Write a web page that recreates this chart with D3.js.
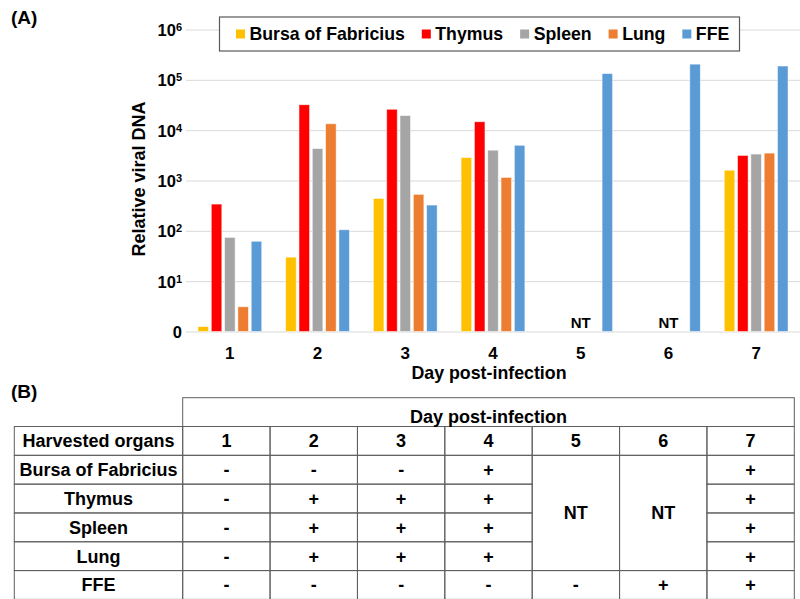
<!DOCTYPE html>
<html>
<script type="text/javascript" src="https://cdn.jsdelivr.net/npm/d3@7"></script>
<style>
  body { margin: 0; background: white; }
  * { font-family: Arial, "Liberation Sans", sans-serif; }
  text { font-weight: bold; fill: black; }
</style>
<body>
<svg width="800" height="599"></svg>
<script>
var days = ["1", "2", "3", "4", "5", "6", "7"];
var organs = ["Bursa of Fabricius", "Thymus", "Spleen", "Lung", "FFE"];
var colors = ["#FFC000", "#FF0000", "#A5A5A5", "#ED7D31", "#5B9BD5"];

// relative viral DNA per day, null = not tested
var bursa  = [1.25, 30, 440, 2850, null, null, 1600];
var thymus = [340, 32000, 26000, 14700, null, null, 3150];
var spleen = [74, 4300, 19500, 4000, null, null, 3350];
var lung   = [3.1, 13400, 530, 1150, null, null, 3500];
var ffe    = [62, 105, 325, 5000, 133000, 205000, 188000];
var series = [bursa, thymus, spleen, lung, ffe];

var yTicks = [1, 10, 100, 1000, 10000, 100000, 1000000];
var ntDays = ["5", "6"];

// table (B)
var tableHead = "Harvested organs";
var bursaRes  = ["-", "-", "-", "+", "NT", "NT", "+"];
var thymusRes = ["-", "+", "+", "+", "NT", "NT", "+"];
var spleenRes = ["-", "+", "+", "+", "NT", "NT", "+"];
var lungRes   = ["-", "+", "+", "+", "NT", "NT", "+"];
var ffeRes    = ["-", "-", "-", "-", "-", "+", "+"];
var results = [bursaRes, thymusRes, spleenRes, lungRes, ffeRes];

var svg = d3.select("svg");

var x0 = d3.scaleBand().domain(days).range([186, 800]);
var x1 = d3.scaleBand().domain(organs).range([0, x0.bandwidth()])
  .paddingInner(0.21).paddingOuter(0.9);
var y = d3.scaleLog().domain([1, 1e6]).range([331.5, 29.5]);

// gridlines
svg.append("g")
  .attr("transform", "translate(186,0)")
  .call(d3.axisLeft(y).tickValues(yTicks).tickSize(-614).tickFormat(""))
  .call(function(g) {
    g.select(".domain").remove();
    g.selectAll("line").attr("stroke", "#d9d9d9");
  });

// y tick labels with superscripts
var yl = svg.append("g")
  .attr("transform", "translate(182,0)")
  .call(d3.axisLeft(y).tickValues(yTicks).tickSize(0).tickPadding(0).tickFormat(""));
yl.select(".domain").remove();
yl.selectAll(".tick line").remove();
yl.selectAll(".tick").append("text")
  .attr("text-anchor", "end")
  .attr("y", 6)
  .style("font-size", "16.5px")
  .each(function(d) {
    var t = d3.select(this);
    if (d === 1) { t.text("0"); return; }
    t.append("tspan").text("10");
    t.append("tspan").attr("dy", -5).style("font-size", "11px").text(Math.round(Math.log10(d)));
  });

// bars
var groups = svg.append("g")
  .selectAll("g")
  .data(days)
  .enter()
  .append("g")
  .attr("transform", function(d) { return "translate(" + x0(d) + ",0)"; });

groups.selectAll("rect")
  .data(function(d, i) {
    return organs.map(function(o, j) { return {organ: o, color: colors[j], value: series[j][i]}; })
      .filter(function(e) { return e.value != null; });
  })
  .enter()
  .append("rect")
  .attr("x", function(d) { return x1(d.organ); })
  .attr("width", x1.bandwidth())
  .attr("y", function(d) { return y(d.value); })
  .attr("height", function(d) { return y(1) - y(d.value); })
  .attr("fill", function(d) { return d.color; })
  .attr("stroke", "white")
  .attr("stroke-opacity", 0.6)
  .attr("stroke-width", 0.8);

// NT labels
svg.append("g")
  .selectAll("text")
  .data(ntDays)
  .enter()
  .append("text")
  .attr("x", function(d) { return x0(d) + x0.bandwidth() / 2; })
  .attr("y", 327.5)
  .attr("text-anchor", "middle")
  .style("font-size", "15px")
  .text("NT");

// x axis labels
var xa = svg.append("g")
  .attr("transform", "translate(0,331.5)")
  .call(d3.axisBottom(x0).tickSize(0).tickPadding(0));
xa.select(".domain").remove();
xa.selectAll(".tick text")
  .attr("y", 27.5)
  .attr("dy", 0)
  .style("font-size", "17px")
  .attr("fill", "black");

svg.append("text")
  .attr("x", 489)
  .attr("y", 379)
  .attr("text-anchor", "middle")
  .style("font-size", "17.8px")
  .text("Day post-infection");

svg.append("text")
  .attr("transform", "translate(145,179)rotate(-90)")
  .attr("text-anchor", "middle")
  .style("font-size", "18px")
  .text("Relative viral DNA");

svg.append("text").attr("x", 11).attr("y", 24).style("font-size", "19px").text("(A)");
svg.append("text").attr("x", 11).attr("y", 398).style("font-size", "19px").text("(B)");

// legend
var legend = svg.append("g");
legend.append("rect")
  .attr("x", 219.5).attr("y", 17)
  .attr("width", 520).attr("height", 34)
  .attr("fill", "white")
  .attr("stroke", "#595959")
  .attr("stroke-width", 1.2);
var lx = 236;
organs.forEach(function(o, i) {
  legend.append("rect")
    .attr("x", lx).attr("y", 29.5)
    .attr("width", 9).attr("height", 9)
    .attr("fill", colors[i]);
  var t = legend.append("text")
    .attr("x", lx + 13.5).attr("y", 39.5)
    .style("font-size", "17.7px")
    .text(o);
  lx = lx + 13.5 + t.node().getComputedTextLength() + 17;
});

// table
var cols = d3.scaleBand().domain(days).range([182.7, 794.3]);
var rows = d3.scaleBand().domain(["day", "head"].concat(organs)).range([397.7, 599.4]);
var tb = svg.append("g").attr("fill", "none").attr("stroke", "#5f5f5f").attr("stroke-width", 1);

tb.append("rect")
  .attr("x", cols.range()[0]).attr("y", rows("day"))
  .attr("width", cols.range()[1] - cols.range()[0]).attr("height", rows.bandwidth());

var rowNames = ["head"].concat(organs);
rowNames.forEach(function(r) {
  tb.append("rect")
    .attr("x", 14.3).attr("y", rows(r))
    .attr("width", cols.range()[0] - 14.3).attr("height", rows.bandwidth());
});

var cells = [];
days.forEach(function(d, j) {
  cells.push({row: "head", day: d, value: d, span: 1});
  organs.forEach(function(o, i) {
    var v = results[i][j];
    if (v === "NT") {
      if (i === 0) cells.push({row: o, day: d, value: v, span: 4});
    } else {
      cells.push({row: o, day: d, value: v, span: 1});
    }
  });
});

tb.selectAll(".cell")
  .data(cells)
  .enter()
  .append("rect")
  .attr("x", function(d) { return cols(d.day); })
  .attr("y", function(d) { return rows(d.row); })
  .attr("width", cols.bandwidth())
  .attr("height", function(d) { return rows.step() * d.span; });

svg.append("g")
  .selectAll("text")
  .data(cells)
  .enter()
  .append("text")
  .attr("x", function(d) { return cols(d.day) + cols.bandwidth() / 2; })
  .attr("y", function(d) { return rows(d.row) + rows.step() * d.span / 2 + 6.5; })
  .attr("text-anchor", "middle")
  .style("font-size", "18px")
  .text(function(d) { return d.value; });

svg.append("g")
  .selectAll("text")
  .data(rowNames)
  .enter()
  .append("text")
  .attr("x", 98.5)
  .attr("y", function(d) { return rows(d) + rows.bandwidth() / 2 + 6.5; })
  .attr("text-anchor", "middle")
  .style("font-size", "18px")
  .text(function(d) { return d === "head" ? tableHead : d; });

svg.append("text")
  .attr("x", (cols.range()[0] + cols.range()[1]) / 2)
  .attr("y", 422.5)
  .attr("text-anchor", "middle")
  .style("font-size", "18px")
  .text("Day post-infection");
</script>
</body>
</html>
